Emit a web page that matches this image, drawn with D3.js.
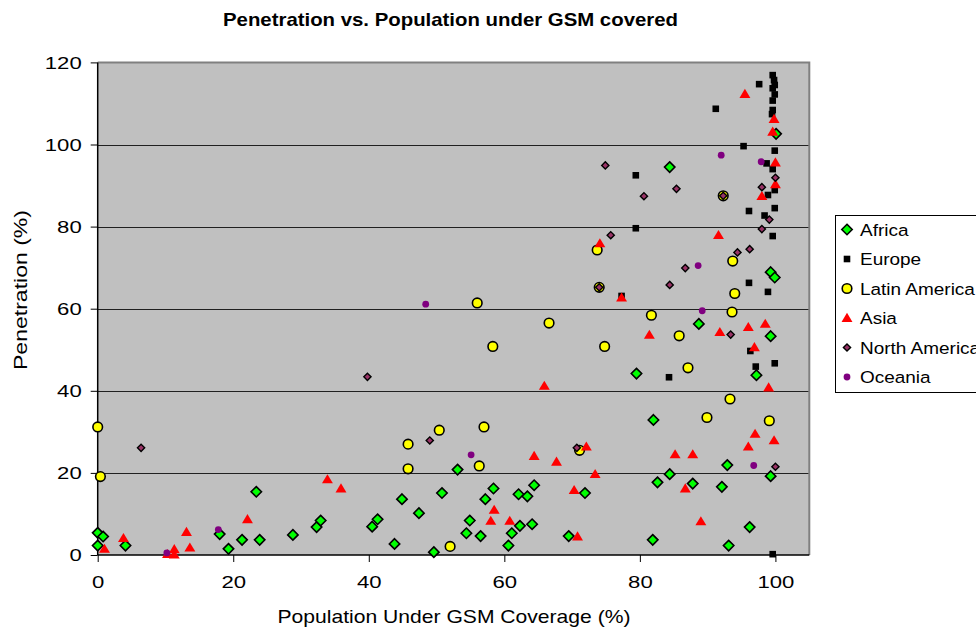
<!DOCTYPE html>
<html>
<head>
<meta charset="utf-8">
<script src="https://cdn.jsdelivr.net/npm/d3@7"></script>
<style>
  html, body { margin: 0; padding: 0; background: #fff; }
  svg { display: block; font-family: "Liberation Sans", Arial, sans-serif; }
</style>
</head>
<body>
<svg id="chart" width="976" height="627"></svg>
<script>
// ---- Data ----
const seriesNames = ["Africa", "Europe", "Latin America", "Asia", "North America", "Oceania"];

const africa = [
  [0,5.4],[0.8,4.5],[0,2.3],[4.1,2.3],[18.0,5.1],[19.3,1.5],[21.3,3.7],[23.4,15.4],[23.9,3.7],
  [28.8,4.9],[32.3,6.8],[32.9,8.4],[44.9,13.6],[50.8,15.1],[58.4,16.2],[57.2,13.6],[64.4,17.0],
  [62.1,14.8],[63.4,14.3],[71.9,15.1],[47.4,10.2],[41.3,8.7],[40.5,6.9],[54.9,8.4],[54.4,5.3],
  [56.5,4.6],[61.1,5.3],[62.3,7.1],[64.1,7.5],[69.5,4.6],[43.8,2.7],[49.6,0.7],[60.6,2.3],
  [53.1,20.8],[82.0,32.9],[92.9,21.9],[84.4,19.7],[82.6,17.7],[87.8,17.4],[92.1,16.6],[99.3,19.2],
  [96.2,6.8],[81.9,3.7],[93.1,2.3],[88.7,56.3],[99.3,53.3],[97.2,43.8],[79.5,44.2],[99.3,68.9],
  [99.9,67.6],[84.4,94.5],[100.1,102.6]
];
const europe = [
  [99.6,0.2],[77.3,63.1],[96.1,66.3],[98.9,64.1],[96.3,49.7],[99.9,46.7],[97.1,45.9],[84.3,43.3],
  [95.3,99.6],[99.9,98.5],[98.7,95.4],[99.6,94.0],[79.4,92.5],[99.9,88.9],[98.9,87.7],[96.1,83.8],
  [99.9,84.5],[98.4,82.7],[79.4,79.6],[99.6,77.7],[99.6,116.9],[99.8,115.7],[99.9,114.5],[99.6,113.7],
  [99.9,112.2],[99.6,110.7],[99.6,108.4],[99.5,107.4],[97.6,114.7],[91.2,108.7]
];
const latinAmerica = [
  [0,31.2],[0.4,19.1],[50.4,30.4],[57.0,31.2],[45.8,27.0],[45.8,21.0],[56.3,21.7],[71.1,25.5],
  [52.0,2.1],[93.3,38.0],[89.9,33.5],[99.1,32.7],[73.7,74.3],[74.0,65.2],[56.0,61.4],[66.6,56.5],
  [58.3,50.8],[74.8,50.8],[93.7,71.6],[94.0,63.7],[81.7,58.4],[93.6,59.2],[85.8,53.4],[87.1,45.6],
  [92.3,87.5]
];
const asia = [
  [1.0,1.5],[3.8,4.1],[10.3,0.2],[11.3,1.4],[11.3,0.1],[13.1,5.6],[13.6,1.8],[22.1,8.7],[33.9,18.4],
  [35.9,16.2],[65.9,41.2],[72.1,26.4],[64.4,24.1],[67.7,22.7],[73.4,19.7],[70.3,15.8],[58.5,11.0],
  [58.0,8.3],[60.8,8.3],[70.8,4.5],[99.0,40.8],[97.0,29.5],[99.8,27.9],[96.0,26.4],[85.2,24.5],
  [87.8,24.5],[86.7,16.2],[89.0,8.2],[81.4,53.6],[91.8,54.3],[96.0,55.5],[98.5,56.3],[96.9,50.6],
  [77.3,62.7],[74.1,75.9],[91.6,77.9],[98.0,87.4],[100.0,90.3],[100.0,95.6],[99.6,103.1],[99.8,106.2],
  [95.5,112.3]
];
const northAmerica = [
  [6.4,26.1],[39.8,43.4],[49.0,27.9],[70.7,26.1],[100.0,21.5],[74.9,94.9],[75.7,77.9],[74.0,65.2],
  [96.2,74.5],[94.4,73.7],[86.7,69.9],[84.4,65.8],[93.4,53.7],[100.0,91.9],[98.0,89.6],[85.4,89.2],
  [80.6,87.4],[92.3,87.5],[99.1,81.7],[98.0,79.4]
];
const oceania = [
  [10.2,0.5],[17.8,6.2],[55.1,24.4],[48.4,61.1],[88.6,70.5],[89.2,59.5],[96.8,21.8],[92.0,97.4],[97.9,95.8]
];
const xTicks = [0, 20, 40, 60, 80, 100];
const yTicks = [0, 20, 40, 60, 80, 100, 120];

const titleText = "Penetration vs. Population under GSM covered";
const xLabel = "Population Under GSM Coverage (%)";
const yLabel = "Penetration (%)";

// ---- Layout ----
const svg = d3.select("#chart");
const L = 97.7, R = 809.3, T = 62.4, B = 555;
const x = d3.scaleLinear().domain([0, 105]).range([L, R]);
const y = d3.scaleLinear().domain([0, 120]).range([B, T]);

// plot area
svg.append("rect").attr("x", L).attr("y", T).attr("width", R - L).attr("height", B - T)
  .attr("fill", "#C0C0C0");

// gridlines
svg.append("g").selectAll("line").data(yTicks.filter(d => d > 0 && d < 120)).join("line")
  .attr("x1", L).attr("x2", R).attr("y1", d => Math.round(y(d)) + 0.5).attr("y2", d => Math.round(y(d)) + 0.5)
  .attr("stroke", "#202020").attr("stroke-width", 1);

// border top/right (gray)
svg.append("path")
  .attr("d", `M${L},${T} H${R} V${B}`)
  .attr("fill", "none").attr("stroke", "#808080").attr("stroke-width", 2);

// axes
const xAxis = d3.axisBottom(x).tickValues(xTicks).tickSize(7).tickFormat(d3.format("d"));
const gx = svg.append("g").attr("transform", `translate(0,${B})`).call(xAxis);
gx.select(".domain").attr("stroke", "#000").attr("stroke-width", 1.5).attr("d", `M${L},0H${R}`);
gx.selectAll(".tick line").attr("stroke", "#000");
gx.selectAll(".tick text")
  .attr("font-family", "Liberation Sans, Arial, sans-serif")
  .attr("font-size", 16).attr("fill", "#000").attr("dy", null).attr("y", 33)
  .attr("textLength", d => String(d).length * 12.3).attr("lengthAdjust", "spacingAndGlyphs");

const yAxis = d3.axisLeft(y).tickValues(yTicks).tickSize(7).tickFormat(d3.format("d"));
const gy = svg.append("g").attr("transform", `translate(${L},0)`).call(yAxis);
gy.select(".domain").attr("stroke", "#000").attr("stroke-width", 1.5).attr("d", `M0,${T}V${B}`);
gy.selectAll(".tick line").attr("stroke", "#000");
gy.selectAll(".tick text")
  .attr("font-family", "Liberation Sans, Arial, sans-serif")
  .attr("font-size", 16).attr("fill", "#000").attr("x", -16).attr("dy", "0.36em")
  .attr("textLength", d => String(d).length * 12.3).attr("lengthAdjust", "spacingAndGlyphs");

// ---- markers ----
const sym = {
  diamond: s => `M0,${-s}L${s},0L0,${s}L${-s},0Z`,
  square: s => `M${-s},${-s}H${s}V${s}H${-s}Z`,
  triangle: s => `M0,${-s}L${s * 1.05},${s * 0.75}L${-s * 1.05},${s * 0.75}Z`
};
const styles = [
  { data: africa,       draw: g => g.append("path").attr("d", sym.diamond(5.2)).attr("fill", "#00FF00").attr("stroke", "#000").attr("stroke-width", 1.6) },
  { data: europe,       draw: g => g.append("path").attr("d", sym.square(3.3)).attr("fill", "#000") },
  { data: latinAmerica, draw: g => g.append("circle").attr("r", 4.8).attr("fill", "#FFFF00").attr("stroke", "#000").attr("stroke-width", 1.6) },
  { data: asia,         draw: g => g.append("path").attr("d", sym.triangle(5.2)).attr("fill", "#FF0000") },
  { data: northAmerica, draw: g => g.append("path").attr("d", sym.diamond(3.6)).attr("fill", "#993366").attr("stroke", "#000").attr("stroke-width", 1.4) },
  { data: oceania,      draw: g => g.append("circle").attr("r", 3.4).attr("fill", "#800080") }
];

styles.forEach((st, i) => {
  const g = svg.append("g").attr("class", "series-" + i);
  g.selectAll("g").data(st.data).join("g")
    .attr("transform", d => `translate(${x(d[0])},${y(d[1])})`)
    .each(function () { st.draw(d3.select(this)); });
});

// ---- titles ----
svg.append("text").attr("x", 223).attr("y", 25.5)
  .attr("font-size", 19).attr("font-weight", "bold").attr("fill", "#000")
  .attr("textLength", 455).attr("lengthAdjust", "spacingAndGlyphs")
  .text(titleText);

svg.append("text").attr("x", 454).attr("y", 623).attr("text-anchor", "middle")
  .attr("font-size", 19).attr("fill", "#000")
  .attr("textLength", 353).attr("lengthAdjust", "spacingAndGlyphs")
  .text(xLabel);

svg.append("text").attr("transform", "translate(27,290) rotate(-90)").attr("text-anchor", "middle")
  .attr("font-size", 19).attr("fill", "#000")
  .attr("textLength", 160).attr("lengthAdjust", "spacingAndGlyphs")
  .text(yLabel);

// ---- legend ----
const lg = svg.append("g");
lg.append("rect").attr("x", 835.5).attr("y", 215.5).attr("width", 170).attr("height", 177)
  .attr("fill", "#fff").attr("stroke", "#000").attr("stroke-width", 1);
const legY = d3.scalePoint().domain(seriesNames).range([229.5, 377]);
seriesNames.forEach((name, i) => {
  const row = lg.append("g").attr("transform", `translate(847,${legY(name)})`);
  styles[i].draw(row);
  row.append("text").attr("transform", "translate(13,6) scale(1.15,1)")
    .attr("font-size", 16.5).attr("fill", "#000")
    .text(name);
});
</script>
</body>
</html>
